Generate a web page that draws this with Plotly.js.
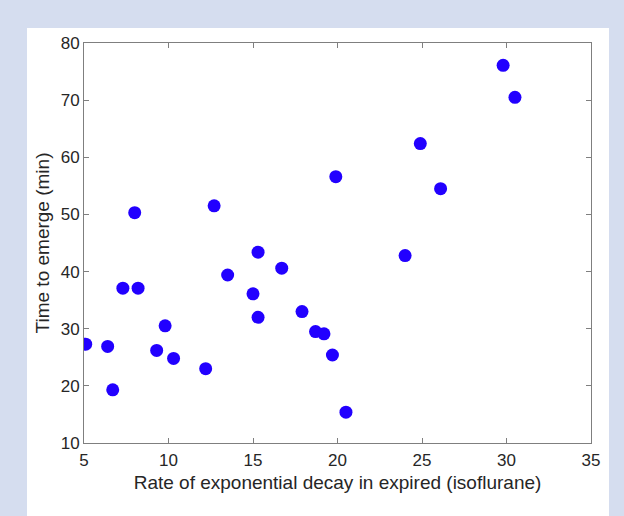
<!DOCTYPE html>
<html>
<head>
<meta charset="utf-8">
<script src="https://cdn.plot.ly/plotly-3.0.1.min.js"></script>
<style>
  html, body { margin: 0; padding: 0; background: #d5ddef; width: 624px; height: 516px; overflow: hidden; }
  #chart { position: absolute; left: 27px; top: 28px; width: 582px; height: 488px; background: #ffffff; }
</style>
</head>
<body>
<div id="chart"></div>
<script>
const decayRate = [5.1, 6.4, 6.7, 7.3, 8.2, 8.0, 9.8, 9.3, 10.3, 12.2, 12.7, 13.5, 15.0, 15.3, 15.3, 16.7, 17.9, 18.7, 19.2, 19.7, 20.5, 19.9, 24.0, 24.9, 26.1, 29.8, 30.5];
const emergeTime = [27.3, 26.9, 19.3, 37.1, 37.1, 50.3, 30.5, 26.2, 24.8, 23.0, 51.5, 39.4, 36.1, 43.4, 32.0, 40.6, 33.0, 29.5, 29.1, 25.4, 15.4, 56.6, 42.8, 62.4, 54.5, 76.1, 70.5];
const xTicks = [5, 10, 15, 20, 25, 30, 35];
const yTicks = [10, 20, 30, 40, 50, 60, 70, 80];

const FONT = 'Liberation Sans, Arial, Helvetica, sans-serif';
const axisCommon = {
  showline: true, linecolor: '#7f7f7f', linewidth: 1, mirror: 'ticks',
  ticks: 'inside', ticklen: 5, tickcolor: '#7f7f7f', tickwidth: 1,
  showgrid: false, zeroline: false,
  tickfont: { family: FONT, size: 17, color: '#262626' }
};

const trace = {
  x: decayRate, y: emergeTime, type: 'scatter', mode: 'markers',
  marker: { color: '#2200ff', size: 13, line: { width: 0 } },
  hoverinfo: 'x+y'
};

const layout = {
  width: 582, height: 488,
  margin: { l: 57, r: 18, t: 15, b: 73 },
  paper_bgcolor: '#ffffff', plot_bgcolor: '#ffffff',
  showlegend: false,
  xaxis: Object.assign({}, axisCommon, {
    range: [5, 35], tickvals: xTicks, ticktext: xTicks.map(String),
    ticklabelstandoff: 2,
    title: { text: 'Rate of exponential decay in expired (isoflurane)', font: { family: FONT, size: 19, color: '#262626' }, standoff: 6 }
  }),
  yaxis: Object.assign({}, axisCommon, {
    range: [10, 80], tickvals: yTicks, ticktext: yTicks.map(String),
    title: { text: 'Time to emerge (min)', font: { family: FONT, size: 19, color: '#262626' }, standoff: 6 }
  })
};

Plotly.newPlot('chart', [trace], layout, { displayModeBar: false, staticPlot: true });
</script>
</body>
</html>
